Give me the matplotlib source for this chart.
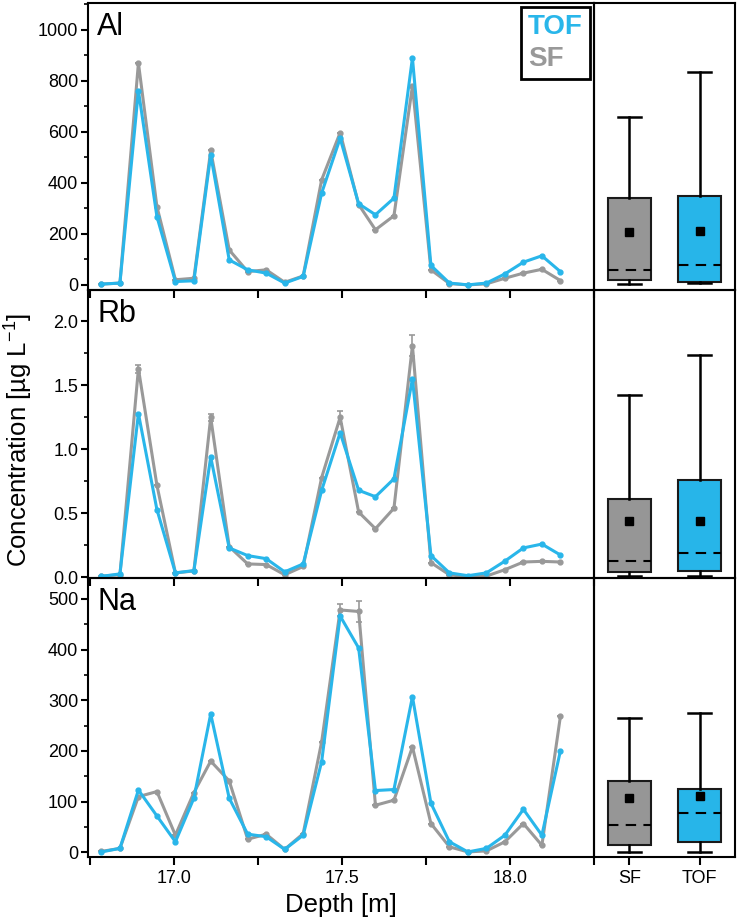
import matplotlib
matplotlib.use('Agg')
import matplotlib.pyplot as plt
from matplotlib.ticker import MultipleLocator, FormatStrFormatter
from matplotlib.lines import Line2D

plt.rcParams['font.family'] = ['Liberation Sans', 'DejaVu Sans']
plt.rcParams['mathtext.fontset'] = 'custom'
plt.rcParams['mathtext.rm'] = 'Liberation Sans'
plt.rcParams['mathtext.it'] = 'Liberation Sans:italic'
plt.rcParams['mathtext.bf'] = 'Liberation Sans:bold'

# ---------------- data ----------------
depth = [16.785, 16.84, 16.895, 16.95, 17.005, 17.06, 17.11, 17.165, 17.22,
         17.275, 17.33, 17.385, 17.44, 17.495, 17.55, 17.6, 17.655, 17.71,
         17.765, 17.82, 17.875, 17.93, 17.985, 18.04, 18.095, 18.15]

al_tof = [3, 7, 762, 268, 13, 16, 510, 98, 59, 46, 7, 33, 360, 575, 318,
          275, 340, 890, 76, 7, 0, 7, 43, 89, 114, 52]
al_sf = [3, 7, 870, 307, 20, 26, 527, 137, 52, 59, 10, 35, 412, 597, 315,
         216, 271, 780, 59, 5, 0, 4, 26, 46, 61, 17]
al_sf_err = [0] * 26

rb_tof = [0.008, 0.027, 1.28, 0.53, 0.035, 0.053, 0.94, 0.23, 0.17, 0.146,
          0.043, 0.105, 0.68, 1.13, 0.68, 0.63, 0.77, 1.55, 0.17, 0.035,
          0.013, 0.035, 0.127, 0.23, 0.26, 0.175]
rb_sf = [0.01, 0.02, 1.63, 0.72, 0.035, 0.05, 1.25, 0.24, 0.105, 0.10,
         0.02, 0.085, 0.78, 1.25, 0.51, 0.38, 0.54, 1.81, 0.115, 0.02,
         0.005, 0.01, 0.06, 0.12, 0.125, 0.12]
rb_sf_err = [0, 0, 0.03, 0, 0, 0, 0.03, 0, 0, 0, 0, 0, 0, 0.05, 0, 0, 0,
             0.08, 0, 0, 0, 0, 0, 0, 0, 0]

na_tof = [1, 8, 123, 72, 21, 107, 273, 107, 36, 31, 6, 34, 179, 466, 403,
          122, 124, 307, 97, 21, 1, 8, 34, 85, 34, 200]
na_sf = [2, 8, 110, 120, 34, 118, 180, 141, 26, 36, 6, 37, 218, 478, 475,
         93, 103, 208, 57, 11, 1, 3, 21, 57, 14, 268]
na_sf_err = [0, 0, 0, 0, 0, 0, 0, 0, 0, 0, 0, 0, 0, 12, 20, 0, 0, 0, 0, 0,
             0, 0, 0, 0, 0, 0]

# box statistics: whislo, q1, median, mean, q3, whishi  (SF, TOF)
al_box_sf = [4, 20, 59, 208, 340, 658]
al_box_tof = [7, 13, 76, 213, 349, 835]
rb_box_sf = [0.008, 0.043, 0.127, 0.44, 0.612, 1.426]
rb_box_tof = [0.008, 0.048, 0.188, 0.437, 0.763, 1.74]
na_box_sf = [0, 14, 55, 108, 141, 266]
na_box_tof = [1, 20, 78, 112, 126, 274]

elements = ['Al', 'Rb', 'Na']
box_labels = ['SF', 'TOF']

BLUE = '#29b6ea'
GRAY = '#999999'
BOXGRAY = '#969696'
BOXBLUE = '#27b5e9'

panels = [
    ('Al', al_tof, al_sf, al_sf_err, al_box_sf, al_box_tof, (-20, 1105), 200, 100, '%d'),
    ('Rb', rb_tof, rb_sf, rb_sf_err, rb_box_sf, rb_box_tof, (-0.005, 2.245), 0.5, 0.25, '%.1f'),
    ('Na', na_tof, na_sf, na_sf_err, na_box_sf, na_box_tof, (-9, 541), 100, 50, '%d'),
]

fig = plt.figure(figsize=(7.4, 9.22), dpi=100)
L, M, R = 0.1189, 0.8027, 0.9932
rows = [(0.6855, 0.9967), (0.3731, 0.6855), (0.0705, 0.3731)]


def stats(s, label):
    return dict(whislo=s[0], q1=s[1], med=s[2], mean=s[3], q3=s[4],
                whishi=s[5], fliers=[], label=label)


for i, (name, tof, sf, sferr, bsf, btof, ylim, maj, mnr, fmt) in enumerate(panels):
    b, t = rows[i]
    ax = fig.add_axes([L, b, M - L, t - b])
    axb = fig.add_axes([M, b, R - M, t - b])
    for a in (ax, axb):
        a.set_facecolor('none')
        for sp in a.spines.values():
            sp.set_linewidth(1.5)

    ax.errorbar(depth, sf, yerr=sferr, color=GRAY, lw=2.2, marker='o', ms=3.5,
                capsize=2.5, elinewidth=1.2, capthick=1.2, zorder=2)
    ax.plot(depth, tof, color=BLUE, lw=2.2, marker='o', ms=3.5, zorder=3)

    ax.set_xlim(16.745, 18.25)
    ax.set_ylim(*ylim)
    ax.xaxis.set_major_locator(MultipleLocator(0.5))
    ax.xaxis.set_minor_locator(MultipleLocator(0.25))
    ax.yaxis.set_major_locator(MultipleLocator(maj))
    ax.yaxis.set_minor_locator(MultipleLocator(mnr))
    ax.yaxis.set_major_formatter(FormatStrFormatter(fmt))
    ax.tick_params(axis='x', which='both', direction='out', length=6, width=1.5,
                   labelsize=13, labelbottom=(i == 2))
    ax.tick_params(axis='y', which='major', direction='out', length=5, width=1.5,
                   labelsize=13, pad=2)
    ax.tick_params(axis='y', which='minor', direction='out', length=3, width=1.2)
    ax.text(0.018, 0.968, name, transform=ax.transAxes, ha='left', va='top',
            fontsize=22)

    # box plot panel
    bp = axb.bxp([stats(bsf, 'SF'), stats(btof, 'TOF')], positions=[1, 2],
                 widths=0.61, capwidths=0.33, showmeans=True, patch_artist=True,
                 showfliers=False,
                 boxprops=dict(linewidth=1.5, edgecolor='#1a1a1a'),
                 whiskerprops=dict(linewidth=1.8, color='black'),
                 capprops=dict(linewidth=1.8, color='black'),
                 medianprops=dict(linewidth=1.5, color='black', linestyle=(0, (5, 3.5))),
                 meanprops=dict(marker='s', markerfacecolor='black',
                                markeredgecolor='black', markersize=6))
    bp['boxes'][0].set_facecolor(BOXGRAY)
    bp['boxes'][1].set_facecolor(BOXBLUE)
    axb.set_xlim(0.5, 2.5)
    axb.set_ylim(*ylim)
    axb.set_yticks([])
    axb.set_xticks([1, 2])
    if i == 2:
        axb.set_xticklabels(box_labels)
        axb.tick_params(axis='x', direction='out', length=6, width=1.5,
                        labelsize=13)
    else:
        axb.tick_params(axis='x', length=0, labelbottom=False)

    if i == 0:
        h = [Line2D([], [], color=BLUE), Line2D([], [], color=GRAY)]
        leg = ax.legend(h, ['TOF', 'SF'], loc='upper right', handlelength=0,
                        handletextpad=0, labelcolor=[BLUE, GRAY],
                        prop={'weight': 'bold', 'size': 20}, fancybox=False,
                        edgecolor='black', framealpha=1, borderpad=0.25,
                        borderaxespad=0.15, labelspacing=0.2)
        leg.get_frame().set_linewidth(2)

fig.text(0.026, 0.523, 'Concentration [µg L$^{\\mathrm{-1}}$]', rotation=90,
         ha='center', va='center', fontsize=18.5)
fig.text((L + M) / 2, 0.018, 'Depth [m]', ha='center', va='center',
         fontsize=18.5)

fig.savefig('out.png', dpi=100, facecolor='white')
